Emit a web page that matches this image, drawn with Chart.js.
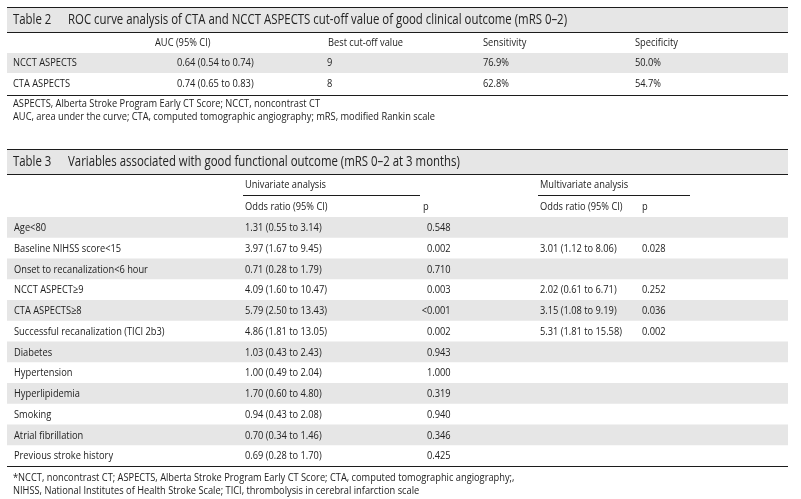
<!DOCTYPE html>
<html>
<head>
<meta charset="utf-8">
<script src="https://cdn.jsdelivr.net/npm/chart.js@4"></script>
<style>
html,body{margin:0;padding:0;background:#fff;}
#wrap{width:801px;height:499px;position:relative;}
</style>
</head>
<body>
<div id="wrap"><canvas id="c" width="801" height="499"></canvas></div>
<script>
// ---------- Data ----------
const table2Title = ["Table 2", "ROC curve analysis of CTA and NCCT ASPECTS cut-off value of good clinical outcome (mRS 0\u20132)"];
const table2Headers = ["AUC (95% CI)", "Best cut-off value", "Sensitivity", "Specificity"];
const table2Rows = ["NCCT ASPECTS", "CTA ASPECTS"];
const table2AUC = ["0.64 (0.54 to 0.74)", "0.74 (0.65 to 0.83)"];
const table2Cutoff = ["9", "8"];
const table2Sens = ["76.9%", "62.8%"];
const table2Spec = ["50.0%", "54.7%"];
const table2Notes = [
  "ASPECTS, Alberta Stroke Program Early CT Score; NCCT, noncontrast CT",
  "AUC, area under the curve; CTA, computed tomographic angiography; mRS, modified Rankin scale"
];

const table3Title = ["Table 3", "Variables associated with good functional outcome (mRS 0\u20132 at 3 months)"];
const table3Groups = ["Univariate analysis", "Multivariate analysis"];
const table3Headers = ["Odds ratio (95% CI)", "p", "Odds ratio (95% CI)", "p"];
const table3Rows = ["Age<80", "Baseline NIHSS score<15", "Onset to recanalization<6 hour", "NCCT ASPECT\u22659",
  "CTA ASPECTS\u22658", "Successful recanalization (TICI 2b3)", "Diabetes", "Hypertension",
  "Hyperlipidemia", "Smoking", "Atrial fibrillation", "Previous stroke history"];
const uniOR = ["1.31 (0.55 to 3.14)", "3.97 (1.67 to 9.45)", "0.71 (0.28 to 1.79)", "4.09 (1.60 to 10.47)",
  "5.79 (2.50 to 13.43)", "4.86 (1.81 to 13.05)", "1.03 (0.43 to 2.43)", "1.00 (0.49 to 2.04)",
  "1.70 (0.60 to 4.80)", "0.94 (0.43 to 2.08)", "0.70 (0.34 to 1.46)", "0.69 (0.28 to 1.70)"];
const uniP = ["0.548", "0.002", "0.710", "0.003", "<0.001", "0.002", "0.943", "1.000", "0.319", "0.940", "0.346", "0.425"];
const multiOR = ["", "3.01 (1.12 to 8.06)", "", "2.02 (0.61 to 6.71)", "3.15 (1.08 to 9.19)", "5.31 (1.81 to 15.58)", "", "", "", "", "", ""];
const multiP = ["", "0.028", "", "0.252", "0.036", "0.002", "", "", "", "", "", ""];
const table3Notes = [
  "*NCCT, noncontrast CT; ASPECTS, Alberta Stroke Program Early CT Score; CTA, computed tomographic angiography;,",
  "NIHSS, National Institutes of Health Stroke Scale; TICI, thrombolysis in cerebral infarction scale"
];

// ---------- Layout / style ----------
const FONT = '"Open Sans", "Liberation Sans", sans-serif';
const TEXT = '#222222';
const BAND = '#e6e6e6';
const RULE = '#1c1c1c';
const L = 7, R = 788;
const BODY_SIZE = 11, TITLE_SIZE = 14;

const tablePlugin = {
  id: 'tablePlugin',
  afterDraw(chart) {
    const ctx = chart.ctx;
    const xs = chart.scales.x, ys = chart.scales.y;
    const px = v => xs.getPixelForValue(v);
    const py = v => ys.getPixelForValue(v);

    ctx.save();
    ctx.font = BODY_SIZE + 'px ' + FONT;
    const bodySX = 307 / ctx.measureText(table2Notes[0]).width;
    ctx.font = TITLE_SIZE + 'px ' + FONT;
    const titleSX = 499 / ctx.measureText(table2Title[1]).width;
    ctx.restore();

    function txt(s, x, y, size, sx, align) {
      ctx.save();
      ctx.font = size + 'px ' + FONT;
      ctx.fillStyle = TEXT;
      ctx.textBaseline = 'middle';
      let w = ctx.measureText(s).width * sx;
      let xx = px(x);
      if (align === 'right') xx -= w;
      ctx.translate(xx, py(y));
      ctx.scale(sx, 1);
      ctx.fillText(s, 0, 0);
      ctx.restore();
    }
    const body = (s, x, y, a) => txt(s, x, y, BODY_SIZE, bodySX, a);
    const title = (s, x, y) => txt(s, x, y, TITLE_SIZE, titleSX);

    function band(y0, y1) {
      ctx.fillStyle = BAND;
      ctx.fillRect(px(L), py(y0), px(R) - px(L), py(y1) - py(y0));
    }
    function rule(y, x0, x1) {
      const a = x0 === undefined ? L : x0, b = x1 === undefined ? R : x1;
      ctx.fillStyle = RULE;
      ctx.fillRect(px(a), py(y), px(b) - px(a), 1);
    }

    // ---- Table 2 ----
    band(8, 32);
    rule(7); rule(32);
    title(table2Title[0], 13, 20.5);
    title(table2Title[1], 68, 20.5);
    const t2cols = [155, 328, 483, 635];
    table2Headers.forEach((h, i) => body(h, t2cols[i], 43));
    const t2valX = [177, 327, 483, 635];
    const t2top = 53, t2h = [20, 22];
    let yy = t2top;
    table2Rows.forEach((r, i) => {
      if (i % 2 === 0) band(yy, yy + t2h[i]);
      const c = yy + t2h[i] / 2;
      body(r, 13, c);
      body(table2AUC[i], t2valX[0], c);
      body(table2Cutoff[i], t2valX[1], c);
      body(table2Sens[i], t2valX[2], c);
      body(table2Spec[i], t2valX[3], c);
      yy += t2h[i];
    });
    rule(95);
    body(table2Notes[0], 13, 103.5);
    body(table2Notes[1], 13, 117);

    // ---- Table 3 ----
    band(150, 174);
    rule(149); rule(174);
    title(table3Title[0], 13, 162);
    title(table3Title[1], 68, 162);
    body(table3Groups[0], 245, 185);
    body(table3Groups[1], 540, 185);
    rule(195, 243, 420);
    rule(195, 538, 690);
    body(table3Headers[0], 245, 207);
    body(table3Headers[1], 423, 207);
    body(table3Headers[2], 540, 207);
    body(table3Headers[3], 642, 207);

    ctx.save(); ctx.font = BODY_SIZE + 'px ' + FONT;
    const pRight = 427 + ctx.measureText('0.548').width * bodySX / (px(1) - px(0));
    ctx.restore();

    const t3top = 217, t3bot = 466;
    const rh = (t3bot - t3top) / table3Rows.length;
    table3Rows.forEach((r, i) => {
      const y0 = t3top + i * rh;
      if (i % 2 === 0) band(y0, y0 + rh);
      const c = y0 + rh / 2 + 0.5;
      body(r, 14, c);
      body(uniOR[i], 245, c);
      body(uniP[i], pRight, c, 'right');
      if (multiOR[i]) body(multiOR[i], 540, c);
      if (multiP[i]) body(multiP[i], 642, c);
    });
    rule(466);
    body(table3Notes[0], 13, 478);
    body(table3Notes[1], 13, 490.5);
  }
};

new Chart(document.getElementById('c'), {
  type: 'scatter',
  data: { datasets: [{ data: [], pointRadius: 0 }] },
  options: {
    responsive: false,
    animation: false,
    events: [],
    layout: { padding: 0 },
    plugins: { legend: { display: false }, tooltip: { enabled: false }, title: { display: false } },
    scales: {
      x: { type: 'linear', min: 0, max: 801, display: false },
      y: { type: 'linear', min: 0, max: 499, reverse: true, display: false }
    }
  },
  plugins: [tablePlugin]
});
</script>
</body>
</html>
